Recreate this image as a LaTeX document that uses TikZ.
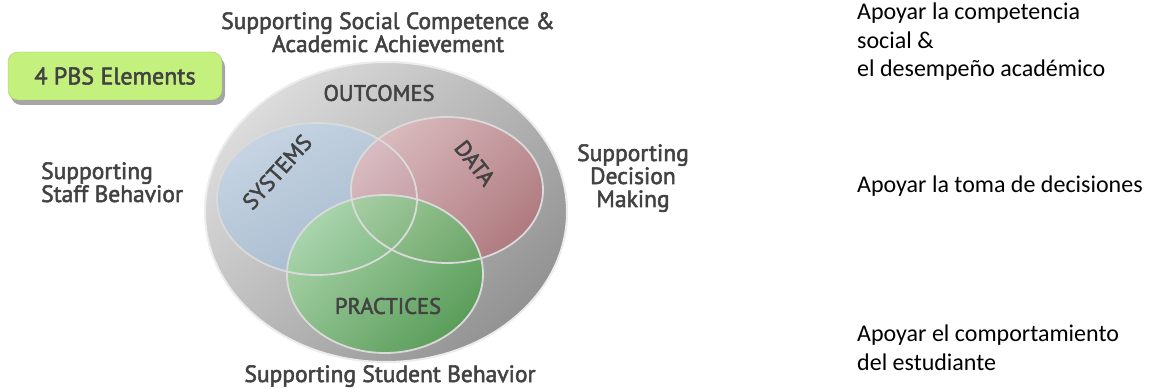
\documentclass[tikz,border=0pt]{standalone}
\usepackage{fontspec}
\setmainfont{Carlito}
\newfontfamily\pbsfont[FakeBold=2.2]{PT Sans}
\usetikzlibrary{shadows}

\definecolor{pbsgray}{HTML}{424242}
\definecolor{pbsgreen}{HTML}{C4F07E}
\definecolor{ringgray}{HTML}{DADADA}

\begin{document}
\begin{tikzpicture}[x=1pt,y=1pt,
	outertext/.style={font=\pbsfont\fontsize{23.5}{23}\selectfont, text=pbsgray, inner sep=0pt},
	circletext/.style={font=\pbsfont\fontsize{22.5}{22}\selectfont, text=pbsgray, inner sep=0pt},
	spanishtext/.style={font=\fontsize{24}{28.5}\selectfont, align=left, anchor=base west, inner sep=0pt},
	ring/.style={draw=ringgray, line width=1.8pt}]
	\fill[white] (0,0) rectangle (1151,391);
	\useasboundingbox (0,0) rectangle (1151,391);

	% outer ellipse and the three circles
	\coordinate (c0) at (386,179);
	\coordinate (c1) at (317,192);
	\coordinate (c2) at (447,201);
	\coordinate (c3) at (385,117);
	\shadedraw[top color=gray!28, middle color=gray!38, bottom color=gray!85, shading angle=45, draw=gray!15, line width=2pt]
		(c0) ellipse [x radius=181pt, y radius=150pt];
	\shade[top color={rgb,255:red,198;green,212;blue,226}, bottom color={rgb,255:red,164;green,184;blue,205}, shading angle=30]
		(c1) ellipse [x radius=100pt, y radius=76pt];
	\shade[fill opacity=0.88, top color={rgb,255:red,221;green,186;blue,190}, bottom color={rgb,255:red,178;green,118;blue,124}, shading angle=45]
		(c2) ellipse [x radius=96pt, y radius=73pt];
	\shade[fill opacity=0.9, top color={rgb,255:red,168;green,214;blue,168}, bottom color={rgb,255:red,84;green,158;blue,84}, shading angle=45]
		(c3) ellipse [x radius=98pt, y radius=79pt];
	\foreach \c/\rx/\ry in {c1/100/76, c2/96/73, c3/98/79}{
		\draw[ring] (\c) ellipse [x radius=\rx pt, y radius=\ry pt];
	}

	% texts in the diagram
	\node[circletext] (outcomes) at (379,298) {OUTCOMES};
	\node[circletext, rotate=48] (systems) at (277,219) {SYSTEMS};
	\node[circletext, rotate=-52] (data) at (475,228) {DATA};
	\node[circletext] (practices) at (388,85) {PRACTICES};

	\node[outertext, align=center, anchor=base] (social) at (388,339) {Supporting Social Competence \&\\Academic Achievement};
	\node[outertext, align=left, anchor=base west] (staff) at (41,189) {Supporting\\Staff Behavior};
	\node[outertext, align=center, anchor=base] (decision) at (633,184) {Supporting\\Decision\\Making};
	\node[outertext, anchor=base] (student) at (390,9) {Supporting Student Behavior};

	\node[font=\pbsfont\fontsize{24}{25}\selectfont, text=pbsgray, fill=pbsgreen, draw=pbsgreen!85!black, rounded corners=10pt,
		minimum width=214pt, minimum height=48pt, drop shadow={shadow xshift=3pt, shadow yshift=-5pt, fill=black!70}]
		(pbs) at (115,315) {4 PBS Elements};

	% translations
	\node[spanishtext] (esSocial) at (857,314) {Apoyar la competencia\\social \&\\el desempeño académico};
	\node[spanishtext] (esDecision) at (857,198) {Apoyar la toma de decisiones};
	\node[spanishtext] (esStudent) at (857,21) {Apoyar el comportamiento\\del estudiante};
\end{tikzpicture}
\end{document}
